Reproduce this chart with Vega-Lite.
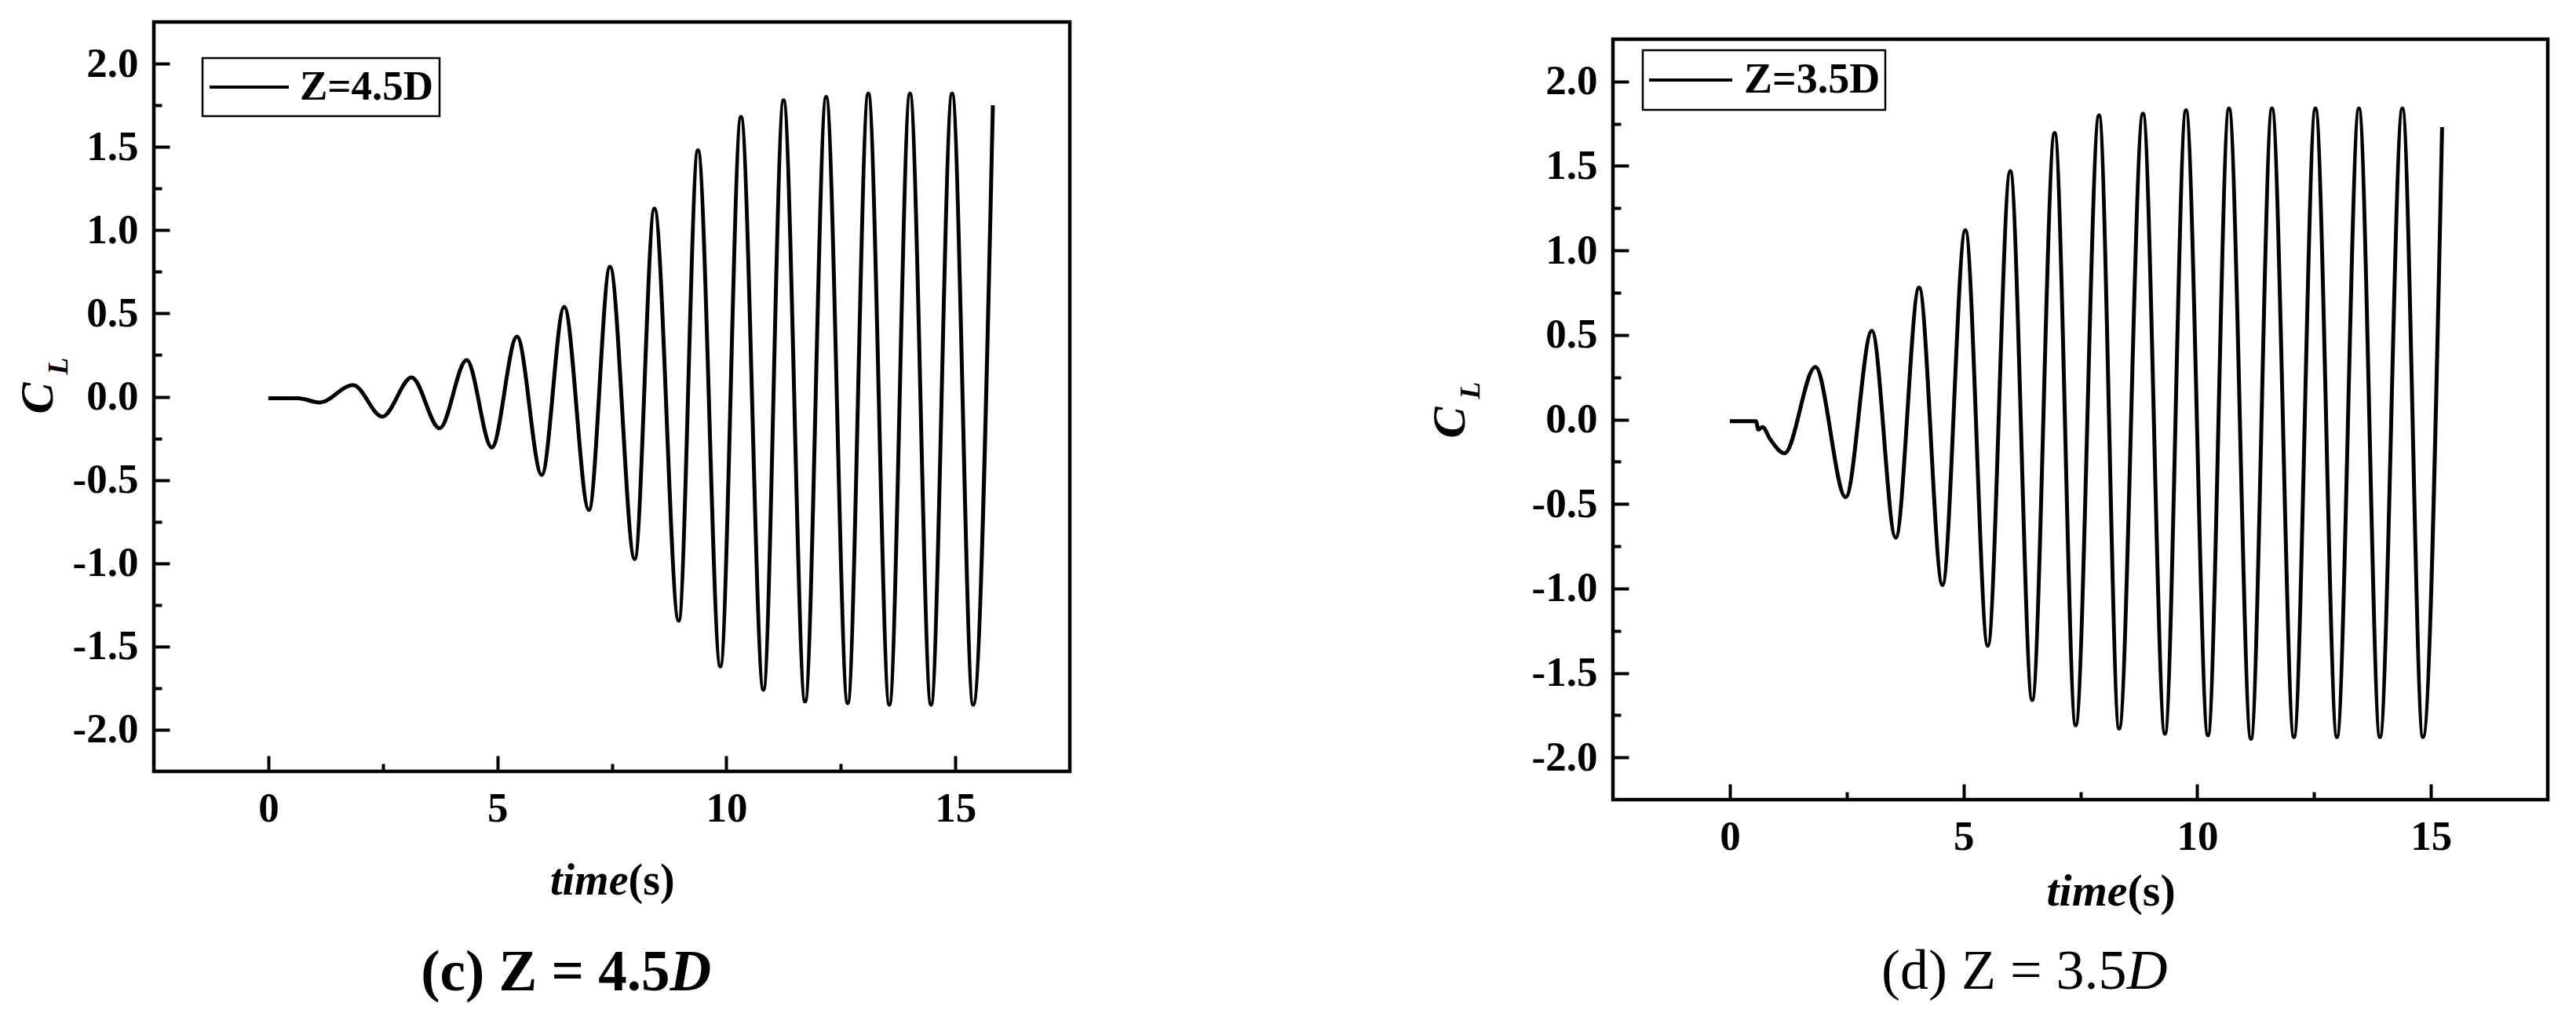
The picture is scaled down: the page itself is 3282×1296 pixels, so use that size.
{
  "$schema": "https://vega.github.io/schema/vega-lite/v6.json",
  "background": "white",
  "padding": {"left": 15, "top": 25, "right": 10, "bottom": 10},
  "bounds": "flush",
  "spacing": 692,
  "datasets": {
    "c45": [
      {"t": 0, "cl": -0.01}, {"t": 0.65, "cl": -0.01}, {"t": 1.12, "cl": -0.035}, {"t": 1.85, "cl": 0.07},
      {"t": 2.49, "cl": -0.12}, {"t": 3.13, "cl": 0.115}, {"t": 3.74, "cl": -0.19}, {"t": 4.33, "cl": 0.22},
      {"t": 4.88, "cl": -0.305}, {"t": 5.43, "cl": 0.36}, {"t": 5.97, "cl": -0.47}, {"t": 6.46, "cl": 0.54},
      {"t": 7.0, "cl": -0.68}, {"t": 7.46, "cl": 0.78}, {"t": 8.0, "cl": -0.975}, {"t": 8.43, "cl": 1.13},
      {"t": 8.96, "cl": -1.345}, {"t": 9.38, "cl": 1.48}, {"t": 9.87, "cl": -1.62}, {"t": 10.32, "cl": 1.68},
      {"t": 10.81, "cl": -1.76}, {"t": 11.25, "cl": 1.78}, {"t": 11.72, "cl": -1.83}, {"t": 12.18, "cl": 1.8},
      {"t": 12.65, "cl": -1.84}, {"t": 13.1, "cl": 1.82}, {"t": 13.56, "cl": -1.85}, {"t": 14.01, "cl": 1.82},
      {"t": 14.47, "cl": -1.85}, {"t": 14.93, "cl": 1.82}, {"t": 15.39, "cl": -1.85}, {"t": 15.82, "cl": 1.75}
    ],
    "c35": [
      {"t": 0, "cl": -0.01}, {"t": 0.56, "cl": -0.01}, {"t": 0.61, "cl": -0.06}, {"t": 0.7, "cl": -0.045},
      {"t": 0.87, "cl": -0.12}, {"t": 1.17, "cl": -0.2}, {"t": 1.83, "cl": 0.31}, {"t": 2.48, "cl": -0.46},
      {"t": 3.04, "cl": 0.525}, {"t": 3.55, "cl": -0.7}, {"t": 4.05, "cl": 0.78}, {"t": 4.55, "cl": -0.98},
      {"t": 5.04, "cl": 1.12}, {"t": 5.52, "cl": -1.34}, {"t": 6.0, "cl": 1.47}, {"t": 6.47, "cl": -1.66},
      {"t": 6.95, "cl": 1.695}, {"t": 7.4, "cl": -1.81}, {"t": 7.9, "cl": 1.8}, {"t": 8.33, "cl": -1.83},
      {"t": 8.84, "cl": 1.81}, {"t": 9.31, "cl": -1.86}, {"t": 9.76, "cl": 1.83}, {"t": 10.23, "cl": -1.87},
      {"t": 10.68, "cl": 1.84}, {"t": 11.15, "cl": -1.89}, {"t": 11.6, "cl": 1.84}, {"t": 12.07, "cl": -1.88},
      {"t": 12.53, "cl": 1.84}, {"t": 12.99, "cl": -1.88}, {"t": 13.46, "cl": 1.84}, {"t": 13.91, "cl": -1.88},
      {"t": 14.39, "cl": 1.84}, {"t": 14.83, "cl": -1.88}, {"t": 15.24, "cl": 1.73}
    ]
  },
  "resolve": {"scale": {"color": "independent"}, "legend": {"color": "independent"}},
  "hconcat": [
    {
      "width": 1167,
      "height": 955,
      "data": {"name": "c45"},
      "resolve": {"axis": {"x": "independent", "y": "independent"}},
      "layer": [
        {
          "mark": {"type": "line", "interpolate": "monotone", "strokeWidth": 5},
          "encoding": {
            "x": {"field": "t", "type": "quantitative", "scale": {"domain": [-2.5, 17.5], "nice": false, "zero": false},
              "axis": {"orient": "bottom", "values": [0, 5, 10, 15], "format": "d", "tickSize": -20, "labelPadding": 41,
                "title": "time", "titleFontStyle": "italic", "titleFontSize": 56, "titleX": 604, "titleY": 156,
                "titleAlign": "right", "titleBaseline": "alphabetic", "titleAngle": 0}},
            "y": {"field": "cl", "type": "quantitative", "scale": {"domain": [-2.25, 2.25], "nice": false, "zero": false},
              "axis": {"orient": "left", "values": [-2, -1.5, -1, -0.5, 0, 0.5, 1, 1.5, 2], "format": ".1f", "tickSize": -20, "labelPadding": 40,
                "title": "C", "titleFontStyle": "italic", "titleFontSize": 60, "titleX": -130, "titleY": 479,
                "titleAngle": 270, "titleAlign": "center", "titleBaseline": "alphabetic"}},
            "color": {"datum": "Z=4.5D", "scale": {"range": ["black"]},
              "legend": {"orient": "none", "legendX": 62, "legendY": 46, "title": null, "symbolType": "stroke",
                "symbolSize": 10201, "symbolStrokeWidth": 4, "symbolStrokeColor": "black", "clipHeight": 60, "padding": 7,
                "labelOffset": 12, "labelFontSize": 53, "labelFont": "Liberation Serif", "labelFontWeight": "bold",
                "labelColor": "black", "labelLimit": 0, "strokeColor": "black", "fillColor": "white",
                "encode": {"legend": {"update": {"strokeWidth": {"value": 2.5}}}}}}
          }
        },
        {
          "mark": {"type": "line", "opacity": 0},
          "encoding": {
            "x": {"field": "t", "type": "quantitative", "scale": {"domain": [-2.5, 17.5], "nice": false, "zero": false},
              "axis": {"orient": "bottom", "values": [2.5, 7.5, 12.5], "tickSize": -10, "labels": false,
                "title": "(s)", "titleFontStyle": "normal", "titleFontSize": 56, "titleX": 604, "titleY": 156,
                "titleAlign": "left", "titleBaseline": "alphabetic", "titleAngle": 0}},
            "y": {"field": "cl", "type": "quantitative", "scale": {"domain": [-2.25, 2.25], "nice": false, "zero": false},
              "axis": {"orient": "left", "values": [-1.75, -1.25, -0.75, -0.25, 0.25, 0.75, 1.25, 1.75], "tickSize": -10, "labels": false,
                "title": "L", "titleFontStyle": "italic", "titleFontSize": 36, "titleX": -111, "titleY": 438,
                "titleAngle": 270, "titleAlign": "center", "titleBaseline": "alphabetic"}}
          }
        },
        {
          "mark": {"type": "line", "opacity": 0},
          "encoding": {
            "x": {"field": "t", "type": "quantitative", "scale": {"domain": [-2.5, 17.5], "nice": false, "zero": false},
              "axis": {"orient": "bottom", "ticks": false, "labels": false,
                "title": "(c) Z = 4.5", "titleFontStyle": "normal", "titleFontSize": 73, "titleX": 657, "titleY": 278,
                "titleAlign": "right", "titleBaseline": "alphabetic", "titleAngle": 0}},
            "y": {"field": "cl", "type": "quantitative", "scale": {"domain": [-2.25, 2.25], "nice": false, "zero": false}, "axis": null}
          }
        },
        {
          "mark": {"type": "line", "opacity": 0},
          "encoding": {
            "x": {"field": "t", "type": "quantitative", "scale": {"domain": [-2.5, 17.5], "nice": false, "zero": false},
              "axis": {"orient": "bottom", "ticks": false, "labels": false,
                "title": "D", "titleFontStyle": "italic", "titleFontSize": 73, "titleX": 657, "titleY": 278,
                "titleAlign": "left", "titleBaseline": "alphabetic", "titleAngle": 0}},
            "y": {"field": "cl", "type": "quantitative", "scale": {"domain": [-2.25, 2.25], "nice": false, "zero": false}, "axis": null}
          }
        }
      ]
    },
    {
      "bounds": "flush",
      "spacing": 20,
      "vconcat": [
        {"width": 10, "height": 2, "data": {"values": []}, "mark": "point", "view": {"stroke": null}},
        {
          "width": 1191,
          "height": 969,
          "data": {"name": "c35"},
          "resolve": {"axis": {"x": "independent", "y": "independent"}},
          "layer": [
            {
              "mark": {"type": "line", "interpolate": "monotone", "strokeWidth": 5},
              "encoding": {
                "x": {"field": "t", "type": "quantitative", "scale": {"domain": [-2.5, 17.5], "nice": false, "zero": false},
                  "axis": {"orient": "bottom", "values": [0, 5, 10, 15], "format": "d", "tickSize": -20, "labelPadding": 41,
                    "title": "time", "titleFontStyle": "italic", "titleFontSize": 58, "titleX": 655, "titleY": 134,
                    "titleAlign": "right", "titleBaseline": "alphabetic", "titleAngle": 0}},
                "y": {"field": "cl", "type": "quantitative", "scale": {"domain": [-2.25, 2.25], "nice": false, "zero": false},
                  "axis": {"orient": "left", "values": [-2, -1.5, -1, -0.5, 0, 0.5, 1, 1.5, 2], "format": ".1f", "tickSize": -20, "labelPadding": 40,
                    "title": "C", "titleFontStyle": "italic", "titleFontSize": 60, "titleX": -190, "titleY": 488,
                    "titleAngle": 270, "titleAlign": "center", "titleBaseline": "alphabetic"}},
                "color": {"datum": "Z=3.5D", "scale": {"range": ["black"]},
                  "legend": {"orient": "none", "legendX": 38, "legendY": 36, "title": null, "symbolType": "stroke",
                    "symbolSize": 11236, "symbolStrokeWidth": 4, "symbolStrokeColor": "black", "clipHeight": 64, "padding": 6,
                    "labelOffset": 13, "labelFontSize": 54, "labelFont": "Liberation Serif", "labelFontWeight": "bold",
                    "labelColor": "black", "labelLimit": 0, "strokeColor": "black", "fillColor": "white",
                    "encode": {"legend": {"update": {"strokeWidth": {"value": 2.5}}}}}}
              }
            },
            {
              "mark": {"type": "line", "opacity": 0},
              "encoding": {
                "x": {"field": "t", "type": "quantitative", "scale": {"domain": [-2.5, 17.5], "nice": false, "zero": false},
                  "axis": {"orient": "bottom", "values": [2.5, 7.5, 12.5], "tickSize": -10, "labels": false,
                    "title": "(s)", "titleFontStyle": "normal", "titleFontSize": 58, "titleX": 655, "titleY": 134,
                    "titleAlign": "left", "titleBaseline": "alphabetic", "titleAngle": 0}},
                "y": {"field": "cl", "type": "quantitative", "scale": {"domain": [-2.25, 2.25], "nice": false, "zero": false},
                  "axis": {"orient": "left", "values": [-1.75, -1.25, -0.75, -0.25, 0.25, 0.75, 1.25, 1.75], "tickSize": -10, "labels": false,
                    "title": "L", "titleFontStyle": "italic", "titleFontSize": 36, "titleX": -171, "titleY": 447,
                    "titleAngle": 270, "titleAlign": "center", "titleBaseline": "alphabetic"}}
              }
            },
            {
              "mark": {"type": "line", "opacity": 0},
              "encoding": {
                "x": {"field": "t", "type": "quantitative", "scale": {"domain": [-2.5, 17.5], "nice": false, "zero": false},
                  "axis": {"orient": "bottom", "ticks": false, "labels": false,
                    "title": "(d) Z = 3.5", "titleFontStyle": "normal", "titleFontWeight": "normal", "titleFontSize": 72, "titleX": 654, "titleY": 240,
                    "titleAlign": "right", "titleBaseline": "alphabetic", "titleAngle": 0}},
                "y": {"field": "cl", "type": "quantitative", "scale": {"domain": [-2.25, 2.25], "nice": false, "zero": false}, "axis": null}
              }
            },
            {
              "mark": {"type": "line", "opacity": 0},
              "encoding": {
                "x": {"field": "t", "type": "quantitative", "scale": {"domain": [-2.5, 17.5], "nice": false, "zero": false},
                  "axis": {"orient": "bottom", "ticks": false, "labels": false,
                    "title": "D", "titleFontStyle": "italic", "titleFontWeight": "normal", "titleFontSize": 72, "titleX": 654, "titleY": 240,
                    "titleAlign": "left", "titleBaseline": "alphabetic", "titleAngle": 0}},
                "y": {"field": "cl", "type": "quantitative", "scale": {"domain": [-2.25, 2.25], "nice": false, "zero": false}, "axis": null}
              }
            }
          ]
        }
      ]
    }
  ],
  "config": {
    "view": {"stroke": "black", "strokeWidth": 4.5},
    "axis": {"domain": false, "grid": false, "tickColor": "black", "tickWidth": 4, "labelFont": "Liberation Serif",
      "labelFontWeight": "bold", "labelFontSize": 53, "labelColor": "black", "titleFont": "Liberation Serif",
      "titleFontWeight": "bold", "titleColor": "black", "labelFlush": false, "labelOverlap": false},
    "locale": {"number": {"decimal": ".", "thousands": ",", "grouping": [3], "currency": ["$", ""], "minus": "-"}}
  }
}
